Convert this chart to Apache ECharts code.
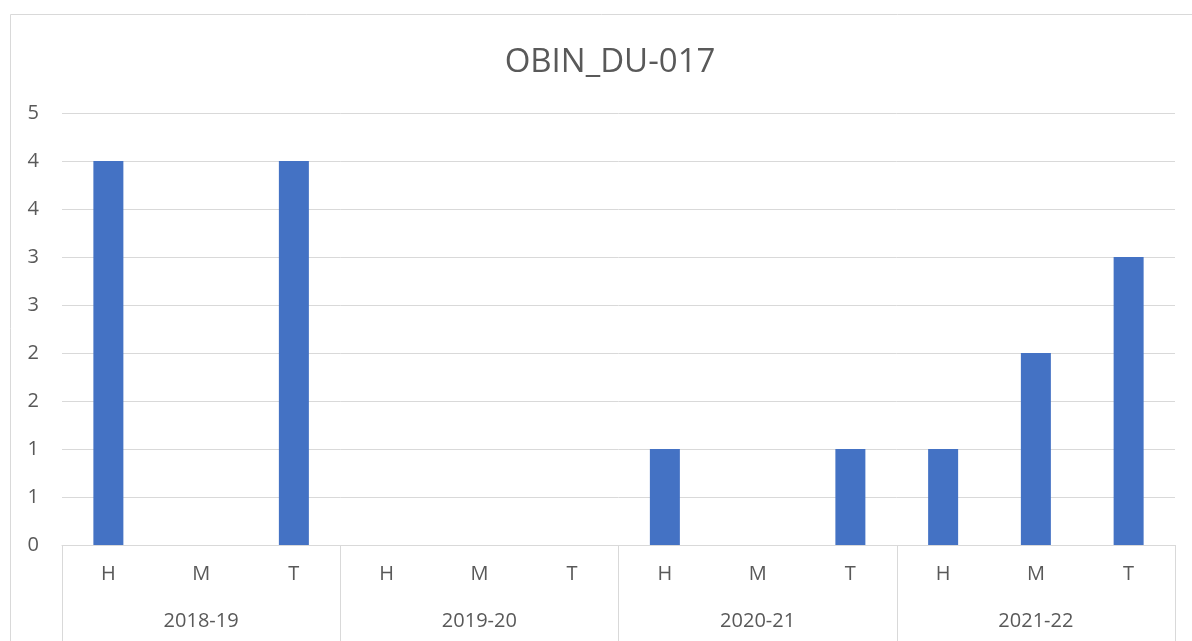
<!DOCTYPE html>
<html lang="en">
  <head>
    <meta charset="UTF-8" />
    <title>OBIN_DU-017</title>
    <script src="https://cdn.jsdelivr.net/npm/echarts@6/dist/echarts.min.js"></script>
    <style>
      html, body { margin: 0; padding: 0; background: #fff; }
      #chart { width: 1192px; height: 641px; }
    </style>
  </head>
  <body>
    <div id="chart"></div>
    <script>
      // data
      var years = ['2018-19', '2019-20', '2020-21', '2021-22'];
      var terms = ['H', 'M', 'T'];
      var values = [4, 0, 4, 0, 0, 0, 1, 0, 1, 1, 2, 3];
      var yTicks = { min: 0, max: 4.5, step: 0.5 };

      var subLabels = [];
      years.forEach(function () {
        terms.forEach(function (t) { subLabels.push(t); });
      });

      var font = '"Open Sans", "Noto Sans", sans-serif';
      var grey = '#595959';
      var line = '#d9d9d9';

      var chart = echarts.init(document.getElementById('chart'));
      chart.setOption({
        animation: false,
        title: {
          text: 'OBIN_DU-017',
          left: 605,
          top: 41,
          textAlign: 'center',
          textStyle: { fontFamily: font, fontSize: 33, fontWeight: 'normal', color: grey }
        },
        graphic: [{
          type: 'rect',
          shape: { x: 10.5, y: 14.5, width: 1300, height: 800 },
          style: { fill: 'none', stroke: line, lineWidth: 1 },
          silent: true
        }],
        grid: { left: 62, right: 17, top: 113, bottom: 96 },
        xAxis: [{
          type: 'category',
          data: subLabels,
          position: 'bottom',
          axisLine: { lineStyle: { color: line } },
          axisTick: { show: false },
          axisLabel: { interval: 0, margin: 19, color: grey, fontSize: 20, fontFamily: font }
        }, {
          type: 'category',
          data: years,
          position: 'bottom',
          axisLine: { show: false },
          axisTick: { show: true, length: 96, interval: 0, lineStyle: { color: line } },
          axisLabel: { interval: 0, margin: 66, color: grey, fontSize: 20, fontFamily: font }
        }],
        yAxis: {
          type: 'value',
          min: yTicks.min,
          max: yTicks.max,
          interval: yTicks.step,
          axisLine: { show: false },
          axisTick: { show: false },
          splitLine: { lineStyle: { color: line } },
          axisLabel: {
            margin: 23,
            color: grey,
            fontSize: 20,
            fontFamily: font,
            formatter: function (v) { return String(Math.round(v)); }
          }
        },
        series: [{
          type: 'bar',
          xAxisIndex: 0,
          data: values,
          barWidth: 30,
          itemStyle: { color: '#4472c4' }
        }]
      });
    </script>
  </body>
</html>
